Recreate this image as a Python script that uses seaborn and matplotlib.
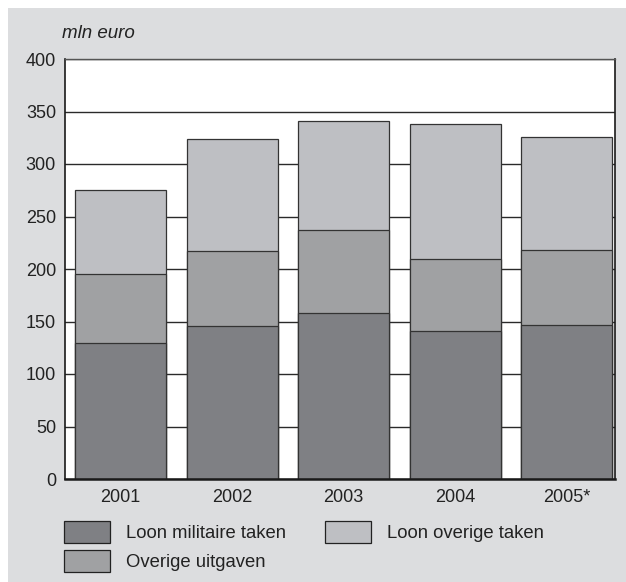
import matplotlib
matplotlib.use("Agg")
import matplotlib.pyplot as plt
from matplotlib.patches import Rectangle, Patch
import seaborn as sns
import pandas as pd

years = ["2001", "2002", "2003", "2004", "2005*"]
loon_militaire = [130, 146, 158, 141, 147]
overige_uitgaven = [65, 71, 79, 69, 71]
loon_overige = [80, 107, 104, 128, 108]
yticks = [0, 50, 100, 150, 200, 250, 300, 350, 400]

c_mil = "#7f8084"
c_uitg = "#a0a1a3"
c_over = "#bebfc3"
bg = "#dcdddf"

sns.set_theme(style="white")
plt.rcParams["font.family"] = ["Liberation Sans", "DejaVu Sans"]

df = pd.DataFrame({"year": years, "mil": loon_militaire,
                   "uitg": overige_uitgaven, "over": loon_overige})
df["c1"] = df["mil"]
df["c2"] = df["mil"] + df["uitg"]
df["c3"] = df["c2"] + df["over"]

W, H = 626, 582
fig = plt.figure(figsize=(W / 100, H / 100), dpi=100)
fig.patch.set_facecolor("white")
fig.patches.append(Rectangle((8 / W, 0), 1 - 8 / W, 1 - 8 / H,
                             transform=fig.transFigure, facecolor=bg,
                             edgecolor="none", zorder=-10))

L, R, T, B = 65, 614.5, 59, 479
ax = fig.add_axes([L / W, 1 - B / H, (R - L) / W, (B - T) / H])
ax.set_zorder(1)
ax.set_facecolor("white")
ax.set_axisbelow(True)

for col, color in [("c3", c_over), ("c2", c_uitg), ("c1", c_mil)]:
    sns.barplot(data=df, x="year", y=col, color=color, width=0.815,
                edgecolor="#333333", linewidth=0.9, saturation=1, ax=ax)

ax.set_xlim(-0.497, 4.427)
ax.set_ylim(0, 400)
ax.set_yticks(yticks)
ax.yaxis.grid(True, color="#2a2a2a", linewidth=1.0)
ax.xaxis.grid(False)
ax.set_xlabel("")
ax.set_ylabel("")
ax.tick_params(axis="y", length=0, pad=6.5, labelsize=13, colors="#222222")
ax.tick_params(axis="x", length=0, pad=7, labelsize=13, colors="#222222")
for s in ["left", "right"]:
    ax.spines[s].set_color("#1a1a1a")
    ax.spines[s].set_linewidth(1.2)
ax.spines["bottom"].set_color("#1a1a1a")
ax.spines["bottom"].set_linewidth(1.8)
ax.spines["top"].set_color("#555555")
ax.spines["top"].set_linewidth(1.0)

fig.text(62 / W, 1 - 33 / H, "mln euro", fontsize=13.5, style="italic",
         color="#222222", va="center", ha="left")

handles = [Patch(facecolor=c_mil, edgecolor="#222222", linewidth=0.9),
           Patch(facecolor=c_uitg, edgecolor="#222222", linewidth=0.9),
           Patch(facecolor=c_over, edgecolor="#222222", linewidth=0.9)]
labels = ["Loon militaire taken", "Overige uitgaven", "Loon overige taken"]
fig.legend(handles, labels, ncol=2, loc="upper left",
           bbox_to_anchor=(64 / W, 1 - 521 / H), frameon=False,
           fontsize=13.3, handlelength=2.5, handleheight=1.42,
           handletextpad=0.85, columnspacing=2.1, labelspacing=0.4,
           borderpad=0, borderaxespad=0, labelcolor="#222222")

fig.savefig("out.png", dpi=100, facecolor=fig.get_facecolor())
